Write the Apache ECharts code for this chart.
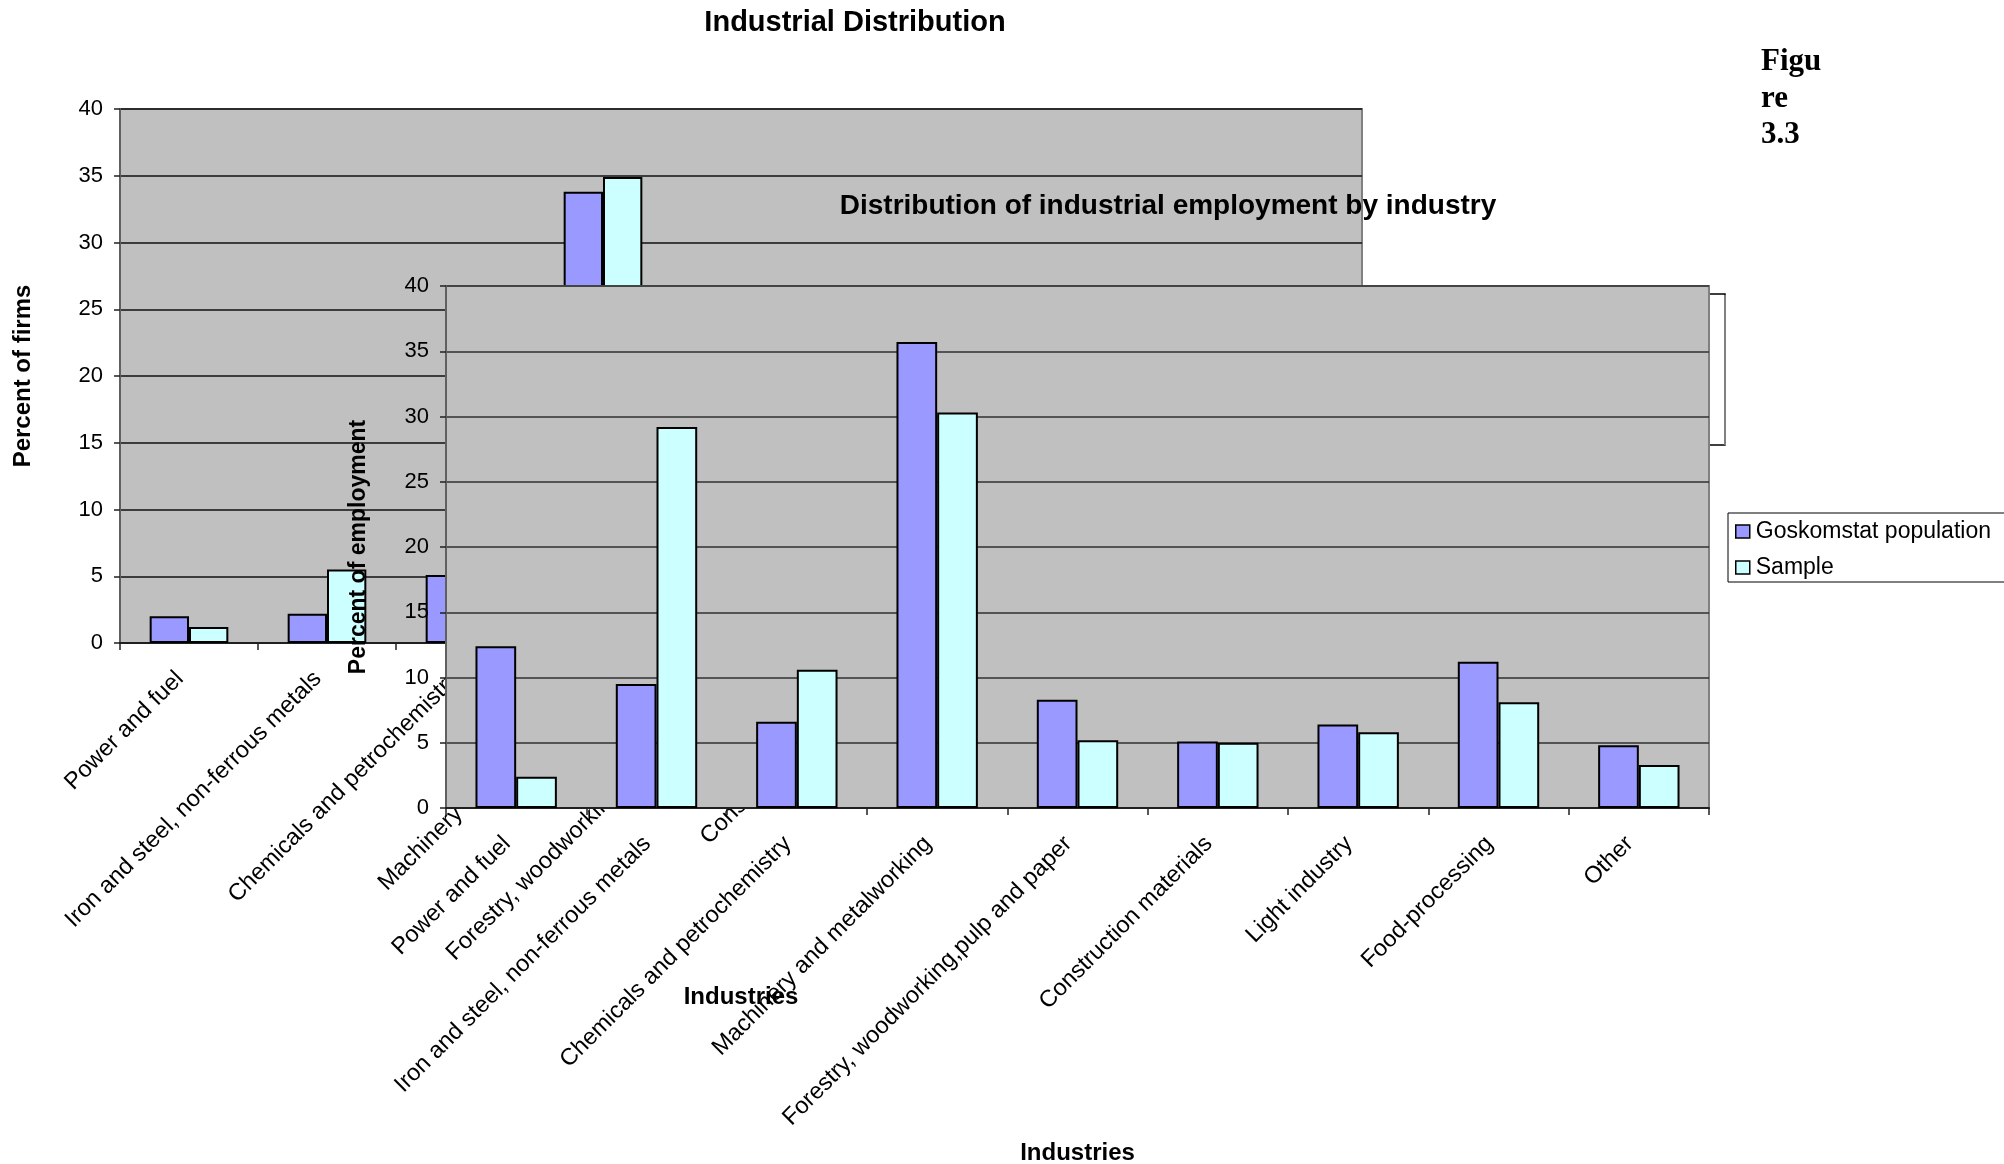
<!DOCTYPE html>
<html>
<head>
<meta charset="utf-8">
<title>Industrial Distribution</title>
<script src="https://cdn.jsdelivr.net/npm/echarts@6/dist/echarts.min.js"></script>
<style>
  html, body { margin: 0; padding: 0; background: #fff; }
  .layer { position: absolute; left: 0; top: 0; width: 2004px; height: 1164px; }
</style>
</head>
<body>
<div id="firms" class="layer"></div>
<div id="employment" class="layer"></div>
<script>
// Industry categories shared by both panels
const industries = [
  'Power and fuel',
  'Iron and steel, non-ferrous metals',
  'Chemicals and petrochemistry',
  'Machinery and metalworking',
  'Forestry, woodworking,pulp and paper',
  'Construction materials',
  'Light industry',
  'Food-processing',
  'Other'
];
const seriesNames = ['Goskomstat population', 'Sample'];

// Percent of firms by industry (rear panel)
const firmsGoskomstat = [2.0, 2.2, 5.1, 33.8, 11.0, 9.0, 12.0, 16.0, 9.0];
const firmsSample = [1.2, 5.5, 5.5, 34.9, 9.5, 10.0, 10.0, 16.0, 7.5];

// Percent of employment by industry (front panel)
const employmentGoskomstat = [12.4, 9.5, 6.6, 35.7, 8.3, 5.1, 6.4, 11.2, 4.8];
const employmentSample = [2.4, 29.2, 10.6, 30.3, 5.2, 5.0, 5.8, 8.1, 3.3];

// Value axis ticks
const yMin = 0, yMax = 40, yStep = 5;

const FONT = "'Liberation Sans', Arial, sans-serif";
const colors = ['#9999FF', '#CCFFFF'];

function barSeries(name, data, color, gap) {
  return {
    name: name,
    type: 'bar',
    data: data,
    barGap: '0%',
    barCategoryGap: gap,
    itemStyle: { color: color, borderColor: '#000', borderWidth: 2 },
    emphasis: { disabled: true }
  };
}

function xAxisOpt(nameGap) {
  return {
    type: 'category',
    data: industries,
    name: 'Industries',
    nameLocation: 'middle',
    nameGap: nameGap,
    nameMoveOverlap: false,
    nameTextStyle: { fontFamily: FONT, fontSize: 24, fontWeight: 'bold', color: '#000' },
    axisLine: { show: true, onZero: false, lineStyle: { color: '#202020', width: 2 } },
    axisTick: { show: true, length: 7, lineStyle: { color: '#202020', width: 1.5 } },
    axisLabel: {
      interval: 0, rotate: 45, margin: 23, padding: [0, 13, 0, 0],
      fontFamily: FONT, fontSize: 23.5, color: '#000'
    },
    splitLine: { show: false }
  };
}

function yAxisOpt(name, nameGap, nameSize, gridColor) {
  return {
    type: 'value',
    min: yMin,
    max: yMax,
    interval: yStep,
    name: name,
    nameLocation: 'middle',
    nameGap: nameGap,
    nameMoveOverlap: false,
    nameTextStyle: { fontFamily: FONT, fontSize: nameSize, fontWeight: 'bold', color: '#000' },
    axisLine: { show: true, lineStyle: { color: '#606060', width: 2 } },
    axisTick: { show: true, length: 6, lineStyle: { color: '#202020', width: 1.5 } },
    axisLabel: { margin: 17, fontFamily: FONT, fontSize: 22, color: '#000' },
    splitLine: { show: true, lineStyle: { color: gridColor, width: 1.5 } }
  };
}

// Rear panel: percent of firms
const firmsChart = echarts.init(document.getElementById('firms'), null, { renderer: 'canvas' });
firmsChart.setOption({
  backgroundColor: '#ffffff',
  animation: false,
  title: {
    text: 'Industrial Distribution',
    left: 855,
    top: 8,
    textAlign: 'center',
    padding: 0,
    textStyle: { fontFamily: FONT, fontSize: 29, fontWeight: 'bold', color: '#000' }
  },
  grid: {
    left: 120, top: 109, width: 1242, height: 534,
    show: true, backgroundColor: '#C0C0C0', borderColor: '#808080', borderWidth: 2,
    containLabel: false, outerBoundsMode: 'none'
  },
  xAxis: xAxisOpt(342),
  yAxis: yAxisOpt('Percent of firms', 85, 24, '#101010'),
  series: [
    barSeries(seriesNames[0], firmsGoskomstat, colors[0], '43%'),
    barSeries(seriesNames[1], firmsSample, colors[1], '43%')
  ],
  graphic: [{
    // legend frame of the rear panel, mostly covered by the front panel
    type: 'rect',
    shape: { x: 1560, y: 294, width: 165, height: 151 },
    style: { fill: '#fff', stroke: '#000', lineWidth: 1.5 }
  }, {
    type: 'line',
    shape: { x1: 1725, y1: 295, x2: 1725, y2: 445 },
    style: { stroke: '#808080', lineWidth: 2 }
  }]
});

// Front panel: percent of employment
const empChart = echarts.init(document.getElementById('employment'), null, { renderer: 'canvas' });
empChart.setOption({
  backgroundColor: 'transparent',
  animation: false,
  title: {
    text: 'Distribution of industrial employment by industry',
    left: 1168,
    top: 192,
    textAlign: 'center',
    padding: 0,
    textStyle: { fontFamily: FONT, fontSize: 28, fontWeight: 'bold', color: '#000' }
  },
  legend: {
    orient: 'vertical',
    left: 1728,
    top: 513,
    padding: [7, 30, 3, 7],
    itemGap: 13,
    itemWidth: 14,
    itemHeight: 13,
    icon: 'rect',
    borderColor: '#000',
    borderWidth: 1,
    backgroundColor: '#fff',
    textStyle: { fontFamily: FONT, fontSize: 23, color: '#000', padding: [0, 0, 0, 1] },
    itemStyle: { borderColor: '#000', borderWidth: 1.5 },
    data: seriesNames
  },
  grid: {
    left: 446, top: 286, width: 1263, height: 522,
    show: true, backgroundColor: '#C0C0C0', borderColor: '#808080', borderWidth: 2,
    containLabel: false, outerBoundsMode: 'none'
  },
  xAxis: xAxisOpt(333),
  yAxis: yAxisOpt('Percent of employment', 76, 23, '#303030'),
  series: [
    barSeries(seriesNames[0], employmentGoskomstat, colors[0], '42%'),
    barSeries(seriesNames[1], employmentSample, colors[1], '42%')
  ],
  graphic: [{
    type: 'text',
    left: 1761,
    top: 44,
    style: {
      text: 'Figu\nre\n3.3',
      font: "bold 31px 'Liberation Serif', 'Times New Roman', serif",
      lineHeight: 36.5,
      fill: '#000'
    }
  }]
});
</script>
</body>
</html>
